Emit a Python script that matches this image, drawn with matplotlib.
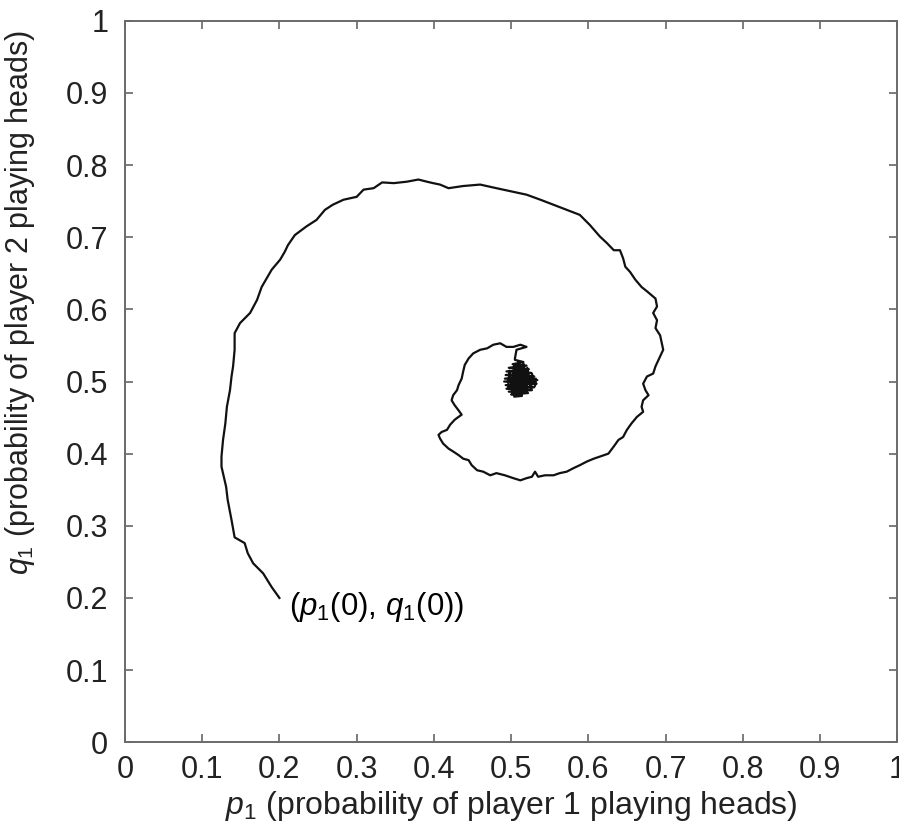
import matplotlib
matplotlib.use("Agg")
import matplotlib.pyplot as plt

plt.rcParams['font.family'] = ['Liberation Sans', 'DejaVu Sans']
plt.rcParams['mathtext.fontset'] = 'custom'
plt.rcParams['mathtext.rm'] = 'Liberation Sans'
plt.rcParams['mathtext.it'] = 'Liberation Sans:italic'

# trajectory of (p1, q1), starting at (0.2, 0.2)
p1_spiral = [
    0.200, 0.190, 0.179, 0.166, 0.159, 0.155, 0.142, 0.138, 0.133, 0.131,
    0.125, 0.125, 0.127, 0.130, 0.132, 0.136, 0.138, 0.140, 0.142, 0.142,
    0.149, 0.162, 0.171, 0.177, 0.184, 0.190, 0.201, 0.207, 0.211, 0.220,
    0.235, 0.248, 0.259, 0.269, 0.283, 0.300, 0.309, 0.322, 0.333, 0.348,
    0.365, 0.380, 0.391, 0.399, 0.408, 0.419, 0.438, 0.460, 0.481, 0.503,
    0.520, 0.538, 0.555, 0.572,
    0.589, 0.602, 0.615, 0.624, 0.633, 0.641, 0.645, 0.648, 0.654, 0.661,
    0.669, 0.676, 0.687, 0.689, 0.684, 0.689, 0.687, 0.693,
    0.697, 0.691, 0.687, 0.684, 0.676, 0.671, 0.674, 0.678, 0.671, 0.669,
    0.671, 0.663, 0.656, 0.650, 0.645, 0.639, 0.633, 0.626, 0.615, 0.607,
    0.598, 0.589, 0.581, 0.572, 0.563, 0.555, 0.544, 0.535, 0.531, 0.527,
    0.520, 0.512,
    0.503, 0.492, 0.481, 0.473, 0.464, 0.456, 0.449, 0.445, 0.438, 0.432,
    0.425, 0.419, 0.412, 0.408, 0.406, 0.410, 0.417, 0.421, 0.427, 0.432,
    0.436, 0.432, 0.427, 0.423, 0.425, 0.430, 0.432, 0.436, 0.438, 0.440,
    0.445, 0.451, 0.460, 0.469, 0.477, 0.486, 0.494, 0.503, 0.512, 0.520,
    0.507, 0.505]
q1_spiral = [
    0.200, 0.215, 0.234, 0.248, 0.262, 0.276, 0.284, 0.308, 0.336, 0.354,
    0.382, 0.396, 0.419, 0.442, 0.465, 0.488, 0.507, 0.521, 0.544, 0.567,
    0.581, 0.595, 0.613, 0.631, 0.644, 0.655, 0.669, 0.680, 0.689, 0.703,
    0.715, 0.724, 0.738, 0.745, 0.752, 0.756, 0.766, 0.768, 0.776, 0.775,
    0.777, 0.780, 0.777, 0.775, 0.773, 0.768, 0.771, 0.773, 0.768, 0.763,
    0.759, 0.752, 0.745, 0.738,
    0.731, 0.717, 0.701, 0.692, 0.682, 0.682, 0.671, 0.659, 0.652, 0.641,
    0.631, 0.625, 0.615, 0.604, 0.595, 0.585, 0.574, 0.564,
    0.544, 0.530, 0.521, 0.511, 0.507, 0.497, 0.488, 0.481, 0.474, 0.465,
    0.458, 0.451, 0.442, 0.433, 0.423, 0.419, 0.410, 0.400, 0.396, 0.393,
    0.389, 0.384, 0.380, 0.375, 0.373, 0.370, 0.370, 0.368, 0.375, 0.368,
    0.366, 0.363,
    0.366, 0.370, 0.373, 0.370, 0.375, 0.377, 0.384, 0.391, 0.393, 0.398,
    0.403, 0.407, 0.414, 0.421, 0.426, 0.430, 0.433, 0.440, 0.447, 0.451,
    0.454, 0.460, 0.467, 0.474, 0.481, 0.488, 0.495, 0.504, 0.514, 0.523,
    0.532, 0.539, 0.544, 0.546, 0.551, 0.553, 0.548, 0.548, 0.551, 0.548,
    0.544, 0.532]

# dense tangle around the equilibrium (0.5, 0.5)
p1_tangle = [0.505, 0.516, 0.502, 0.520, 0.497, 0.523, 0.494, 0.526, 0.493, 0.530,
             0.492, 0.534, 0.491, 0.533, 0.493, 0.530, 0.494, 0.527, 0.497, 0.522,
             0.500, 0.514, 0.504, 0.510, 0.500, 0.520, 0.498, 0.524, 0.503, 0.518,
             0.508, 0.512, 0.506, 0.516, 0.510,
             0.496, 0.498, 0.502, 0.504, 0.508, 0.510, 0.514, 0.516, 0.520, 0.521,
             0.526, 0.527, 0.531, 0.532, 0.515]
q1_tangle = [0.530, 0.527, 0.524, 0.522, 0.519, 0.517, 0.514, 0.512, 0.509, 0.507,
             0.504, 0.502, 0.500, 0.497, 0.495, 0.492, 0.490, 0.488, 0.486, 0.484,
             0.482, 0.480, 0.479, 0.486, 0.492, 0.496, 0.503, 0.507, 0.512, 0.518,
             0.523, 0.510, 0.500, 0.494, 0.498,
             0.490, 0.515, 0.484, 0.524, 0.481, 0.528, 0.482, 0.525, 0.485, 0.519,
             0.489, 0.511, 0.494, 0.504, 0.500]

ticks = [0, 0.1, 0.2, 0.3, 0.4, 0.5, 0.6, 0.7, 0.8, 0.9, 1]
tick_labels = ['0', '0.1', '0.2', '0.3', '0.4', '0.5', '0.6', '0.7', '0.8', '0.9', '1']

fig = plt.figure(figsize=(8.99, 8.33), dpi=100)
ax = fig.add_axes([0.139, 0.109, 0.859, 0.866])

ax.plot(p1_spiral + p1_tangle, q1_spiral + q1_tangle, color='#111111', linewidth=1.6)
ax.text(0.213, 0.188, r'($p_1$(0), $q_1$(0))', fontsize=22.5, ha='left', va='center')

ax.set_xlim(0, 1)
ax.set_ylim(0, 1)
ax.set_xticks(ticks)
ax.set_xticklabels(tick_labels)
ax.set_yticks(ticks)
ax.set_yticklabels(tick_labels)
ax.tick_params(direction='in', length=6, width=1.2, color='#666666',
               labelsize=22, labelcolor='#222222', top=True, right=True)
ax.tick_params(axis='x', pad=9)
ax.tick_params(axis='y', pad=12)
for s in ax.spines.values():
    s.set_color('#6a6a6a')
    s.set_linewidth(1.4)

ax.set_xlabel(r'$p_1$ (probability of player 1 playing heads)', fontsize=23,
              color='#222222', labelpad=3)
ax.set_ylabel(r'$q_1$ (probability of player 2 playing heads)', fontsize=22,
              color='#222222')
ax.yaxis.set_label_coords(-0.114, 0.61)

fig.savefig('out.png', dpi=100)
